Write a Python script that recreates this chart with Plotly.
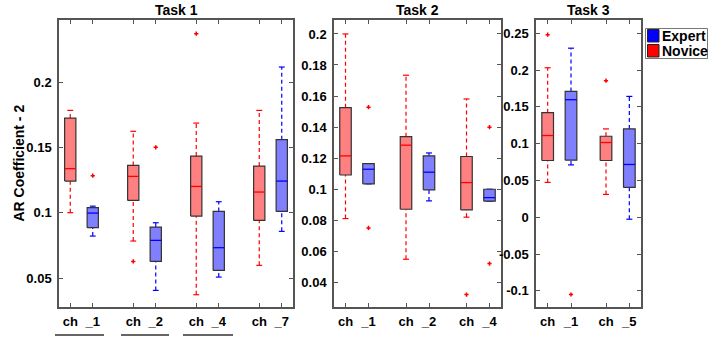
import plotly.graph_objects as go

W, H = 708, 337

# ---------------- data ----------------
task_names = ["Task 1", "Task 2", "Task 3"]
groups = ["Novice", "Expert"]

t1_channels = ["_1", "_2", "_4", "_7"]
t2_channels = ["_1", "_2", "_4"]
t3_channels = ["_1", "_5"]

# each list: one value per channel -> [lower whisker, q1, median, q3, upper whisker]
t1_novice_lo = [0.100, 0.0783, 0.0372, 0.0597]
t1_novice_q1 = [0.1242, 0.1094, 0.0974, 0.0941]
t1_novice_med = [0.1337, 0.1278, 0.1201, 0.1158]
t1_novice_q3 = [0.1724, 0.1362, 0.1433, 0.1357]
t1_novice_hi = [0.1783, 0.1623, 0.1686, 0.1783]
t1_novice_out = [[], [0.0627], [0.237], []]

t1_expert_lo = [0.0821, 0.0405, 0.0507, 0.0857]
t1_expert_q1 = [0.0885, 0.0627, 0.0558, 0.1010]
t1_expert_med = [0.0997, 0.0788, 0.0732, 0.1242]
t1_expert_q3 = [0.1038, 0.0890, 0.1010, 0.1559]
t1_expert_hi = [0.1050, 0.0923, 0.1084, 0.2115]
t1_expert_out = [[0.1283], [0.150], [], []]

t2_novice_lo = [0.081, 0.0548, 0.0819]
t2_novice_q1 = [0.1091, 0.0870, 0.0866]
t2_novice_med = [0.1214, 0.1283, 0.1042]
t2_novice_q3 = [0.1525, 0.1338, 0.1210]
t2_novice_hi = [0.200, 0.1734, 0.1581]
t2_novice_out = [[], [], [0.032]]

t2_expert_lo = [0.1034, 0.0924, 0.0922]
t2_expert_q1 = [0.1034, 0.0995, 0.0922]
t2_expert_med = [0.1128, 0.1109, 0.0945]
t2_expert_q3 = [0.1164, 0.1214, 0.0999]
t2_expert_hi = [0.1164, 0.1233, 0.0999]
t2_expert_out = [[0.1528, 0.075], [], [0.1399, 0.052]]

t3_novice_lo = [0.0473, 0.031]
t3_novice_q1 = [0.0771, 0.0771]
t3_novice_med = [0.111, 0.1015]
t3_novice_q3 = [0.142, 0.110]
t3_novice_hi = [0.2031, 0.120]
t3_novice_out = [[0.248], [0.1855]]

t3_expert_lo = [0.0711, -0.0027]
t3_expert_q1 = [0.0775, 0.0405]
t3_expert_med = [0.1597, 0.0717]
t3_expert_q3 = [0.171, 0.120]
t3_expert_hi = [0.2297, 0.1642]
t3_expert_out = [[-0.105], []]

t1_yticks = [0.05, 0.1, 0.15, 0.2]
t1_yticklabels = ["0.05", "0.1", "0.15", "0.2"]
t2_yticks = [0.04, 0.06, 0.08, 0.1, 0.12, 0.14, 0.16, 0.18, 0.2]
t2_yticklabels = ["0.04", "0.06", "0.08", "0.1", "0.12", "0.14", "0.16", "0.18", "0.2"]
t3_yticks = [-0.1, -0.05, 0, 0.05, 0.1, 0.15, 0.2, 0.25]
t3_yticklabels = ["-0.1", "-0.05", "0", "0.05", "0.1", "0.15", "0.2", "0.25"]

y_title = "AR Coefficient - 2"
legend_labels = ["Expert", "Novice"]

# ---------------- styling / layout ----------------
FONT = "Arial, Liberation Sans, sans-serif"
fill_col = {"Novice": "rgb(255,128,128)", "Expert": "rgb(128,128,255)"}
line_col = {"Novice": "rgb(255,0,0)", "Expert": "rgb(0,0,255)"}
edge_col = "#333333"
axis_col = "#555555"

def px(x):
    return x / W

def py(y):
    return 1 - y / H

y_dom = [py(307), py(20)]
x_doms = [[px(59), px(293)], [px(334), px(501)], [px(536), px(641)]]
pair_gap = [2.8, 2.63, 2.5]
y_ranges = [[0.0278, 0.2475], [0.024, 0.209], [-0.122, 0.268]]

tasks = [
    dict(ch=t1_channels,
         Novice=(t1_novice_lo, t1_novice_q1, t1_novice_med, t1_novice_q3, t1_novice_hi, t1_novice_out),
         Expert=(t1_expert_lo, t1_expert_q1, t1_expert_med, t1_expert_q3, t1_expert_hi, t1_expert_out),
         yt=t1_yticks, ytl=t1_yticklabels),
    dict(ch=t2_channels,
         Novice=(t2_novice_lo, t2_novice_q1, t2_novice_med, t2_novice_q3, t2_novice_hi, t2_novice_out),
         Expert=(t2_expert_lo, t2_expert_q1, t2_expert_med, t2_expert_q3, t2_expert_hi, t2_expert_out),
         yt=t2_yticks, ytl=t2_yticklabels),
    dict(ch=t3_channels,
         Novice=(t3_novice_lo, t3_novice_q1, t3_novice_med, t3_novice_q3, t3_novice_hi, t3_novice_out),
         Expert=(t3_expert_lo, t3_expert_q1, t3_expert_med, t3_expert_q3, t3_expert_hi, t3_expert_out),
         yt=t3_yticks, ytl=t3_yticklabels),
]

BOX_HW = 0.25
CAP_HW = 0.13
fig = go.Figure()

for ti, task in enumerate(tasks):
    xa = "x" if ti == 0 else f"x{ti+1}"
    ya = "y" if ti == 0 else f"y{ti+1}"
    s = pair_gap[ti]
    tickvals, ticktext = [], []
    for gi, grp in enumerate(groups):
        lo, q1, med, q3, hi, outs = task[grp]
        for ci, ch in enumerate(task["ch"]):
            xc = 1 + gi + s * ci
            common = dict(xaxis=xa, yaxis=ya, showlegend=False, hoverinfo="skip")
            # whiskers (dashed)
            if hi[ci] > q3[ci]:
                fig.add_trace(go.Scatter(x=[xc, xc], y=[q3[ci], hi[ci]], mode="lines",
                                         line=dict(color=line_col[grp], width=1.2, dash="4px,3px"), **common))
            if lo[ci] < q1[ci]:
                fig.add_trace(go.Scatter(x=[xc, xc], y=[lo[ci], q1[ci]], mode="lines",
                                         line=dict(color=line_col[grp], width=1.2, dash="4px,3px"), **common))
            # caps
            for v in (lo[ci], hi[ci]):
                fig.add_trace(go.Scatter(x=[xc - CAP_HW, xc + CAP_HW], y=[v, v], mode="lines",
                                         line=dict(color=line_col[grp], width=1.2), **common))
            # box
            fig.add_trace(go.Scatter(x=[xc - BOX_HW, xc + BOX_HW, xc + BOX_HW, xc - BOX_HW, xc - BOX_HW],
                                     y=[q1[ci], q1[ci], q3[ci], q3[ci], q1[ci]],
                                     mode="lines", fill="toself", fillcolor=fill_col[grp],
                                     line=dict(color=edge_col, width=1.2), **common))
            # median
            fig.add_trace(go.Scatter(x=[xc - BOX_HW, xc + BOX_HW], y=[med[ci], med[ci]], mode="lines",
                                     line=dict(color=line_col[grp], width=1.3), **common))
            # outliers
            if outs[ci]:
                fig.add_trace(go.Scatter(x=[xc] * len(outs[ci]), y=outs[ci], mode="markers",
                                         marker=dict(symbol="cross-thin", size=3,
                                                     line=dict(color="rgb(255,0,0)", width=1.5)),
                                         **common))
    for ci, ch in enumerate(task["ch"]):
        tickvals += [1 + s * ci, 2 + s * ci]
        ticktext += ["ch", ch]

    axis_common = dict(showline=True, linecolor=axis_col, linewidth=1.5, mirror="ticks",
                       ticks="inside", ticklen=4, tickcolor=axis_col, tickwidth=1,
                       showgrid=False, zeroline=False,
                       tickfont=dict(family=FONT, size=13, color="black", weight="bold"))
    xkey = "xaxis" if ti == 0 else f"xaxis{ti+1}"
    ykey = "yaxis" if ti == 0 else f"yaxis{ti+1}"
    n = len(task["ch"])
    fig.update_layout({
        xkey: dict(domain=x_doms[ti], range=[0.5, 2 + s * (n - 1) + 0.5], anchor=ya,
                   tickmode="array", tickvals=tickvals, ticktext=ticktext,
                   ticklabelstandoff=2, **axis_common),
        ykey: dict(domain=y_dom, range=y_ranges[ti], anchor=xa,
                   tickmode="array", tickvals=task["yt"], ticktext=task["ytl"],
                   ticklabelstandoff=3, **axis_common),
    })
    fig.add_annotation(text=task_names[ti], xref="paper", yref="paper",
                       x=sum(x_doms[ti]) / 2, y=py(20), yanchor="bottom", xanchor="center",
                       yshift=0, showarrow=False,
                       font=dict(family=FONT, size=14, color="black", weight="bold"))

# y-axis title
fig.add_annotation(text=y_title, xref="paper", yref="paper", x=px(18), y=sum(y_dom) / 2,
                   textangle=-90, showarrow=False, xanchor="center", yanchor="middle",
                   font=dict(family=FONT, size=14, color="black", weight="bold"))

# legend (drawn)
shapes = [dict(type="rect", xref="paper", yref="paper", x0=px(645.5), x1=px(707.5),
               y0=py(58.5), y1=py(28.5), line=dict(color="#777777", width=1), fillcolor="white")]
leg_cols = [line_col["Expert"], line_col["Novice"]]
for i, lab in enumerate(legend_labels):
    top = 29.5 + i * 15
    shapes.append(dict(type="rect", xref="paper", yref="paper", x0=px(647.5), x1=px(659),
                       y0=py(top + 12.5), y1=py(top), fillcolor=leg_cols[i],
                       line=dict(color="#222222", width=1)))
    fig.add_annotation(text=lab, xref="paper", yref="paper", x=px(659.5), y=py(top + 6.5),
                       xanchor="left", yanchor="middle", showarrow=False,
                       font=dict(family=FONT, size=14, color="black", weight="bold"))

# underlines beneath the first three Task 1 labels
for x0, x1 in [(55, 104), (121, 169), (183, 233)]:
    shapes.append(dict(type="line", xref="paper", yref="paper", x0=px(x0), x1=px(x1),
                       y0=py(335), y1=py(335), line=dict(color="#333333", width=1.5)))

fig.update_layout(width=W, height=H, margin=dict(l=0, r=0, t=0, b=0),
                  paper_bgcolor="white", plot_bgcolor="white", shapes=shapes,
                  showlegend=False)

fig.write_html("out.html")
